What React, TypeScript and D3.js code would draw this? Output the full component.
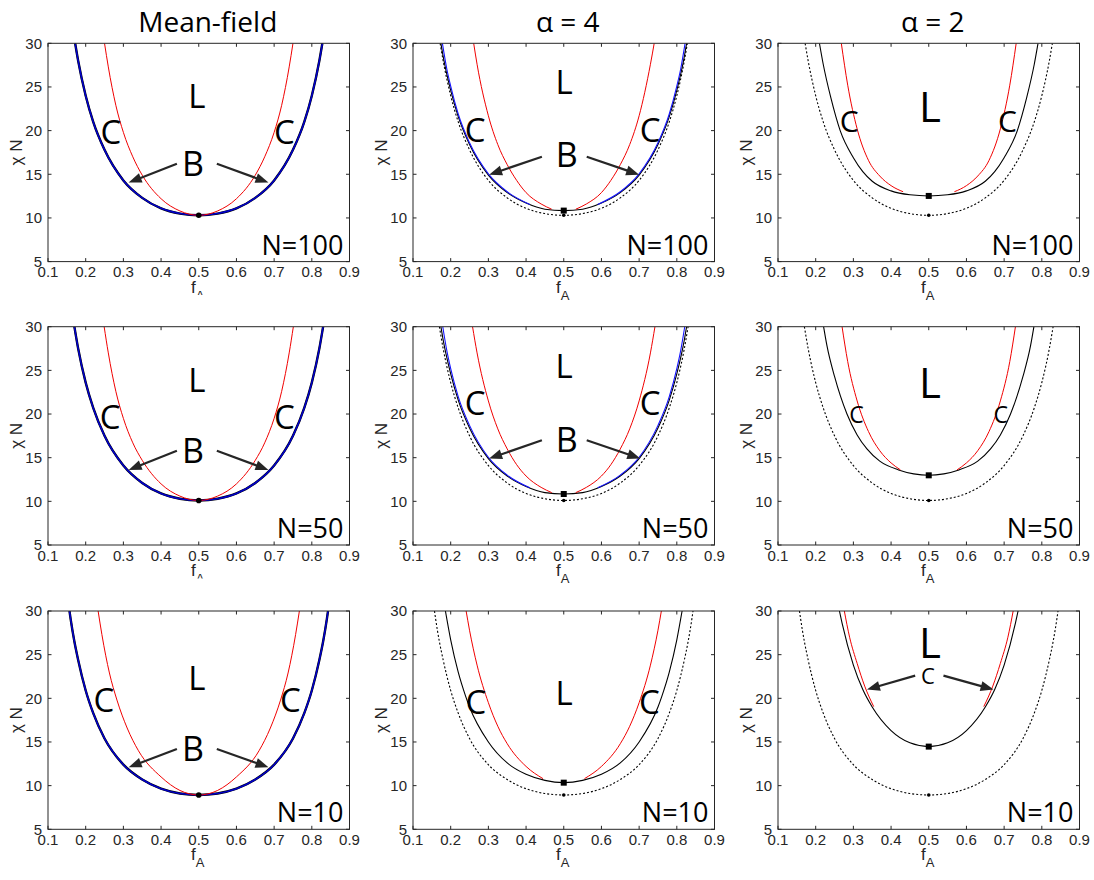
import React from "react";
import * as d3 from "d3";

type Pt = [number, number];

const colTitles = ["Mean-field", "α = 4", "α = 2"];
const rowLabels = ["N=100", "N=50", "N=10"];
const xTicks = [0.1, 0.2, 0.3, 0.4, 0.5, 0.6, 0.7, 0.8, 0.9];
const yTicks = [5, 10, 15, 20, 25, 30];

// ---- N = 100 ----
const mfOdt100: Pt[] = [[0.172,30],[0.18,28.0],[0.2,24.0],[0.22,21.0],[0.25,17.8],[0.3,14.3],[0.35,12.3],[0.4,11.1],[0.45,10.5],[0.5,10.3],[0.55,10.5],[0.6,11.1],[0.65,12.3],[0.7,14.3],[0.75,17.8],[0.78,21.0],[0.8,24.0],[0.82,28.0],[0.828,30]];
const mfCL100: Pt[] = [[0.25,30],[0.26,27.3],[0.28,22.9],[0.3,19.8],[0.325,17.0],[0.35,14.9],[0.4,12.2],[0.45,10.8],[0.5,10.3],[0.55,10.8],[0.6,12.2],[0.65,14.9],[0.675,17.0],[0.7,19.8],[0.72,22.9],[0.74,27.3],[0.75,30]];
const a4Odt100: Pt[] = [[0.174,30],[0.18,28.5],[0.2,24.6],[0.22,21.6],[0.25,18.4],[0.3,14.9],[0.35,12.9],[0.4,11.7],[0.45,11.0],[0.5,10.84],[0.55,11.0],[0.6,11.7],[0.65,12.9],[0.7,14.9],[0.75,18.4],[0.78,21.6],[0.8,24.6],[0.82,28.5],[0.826,30]];
const a4BC100L: Pt[] = [[0.178,30],[0.19,27.0],[0.2,25.1],[0.22,21.9],[0.25,18.6],[0.3,15.05],[0.35,13.0],[0.41,11.55]];
const a4BC100R: Pt[] = [[0.59,11.55],[0.65,13.0],[0.7,15.05],[0.75,18.6],[0.78,21.9],[0.8,25.1],[0.81,27.0],[0.822,30]];
const a4CL100L: Pt[] = [[0.261,30],[0.27,27.6],[0.3,21.7],[0.325,18.4],[0.35,16.1],[0.375,14.3],[0.4,12.9],[0.44,11.6],[0.468,11.0]];
const a4CL100R: Pt[] = [[0.532,11.0],[0.56,11.6],[0.6,12.9],[0.625,14.3],[0.65,16.1],[0.675,18.4],[0.7,21.7],[0.73,27.6],[0.74,30]];
const a2Odt100: Pt[] = [[0.21,30],[0.22,27.6],[0.24,23.8],[0.265,20.0],[0.3,16.9],[0.325,15.3],[0.35,14.2],[0.4,13.1],[0.45,12.65],[0.5,12.52],[0.55,12.65],[0.6,13.1],[0.65,14.2],[0.675,15.3],[0.7,16.9],[0.735,20.0],[0.76,23.8],[0.78,27.6],[0.79,30]];
const a2CL100L: Pt[] = [[0.268,30],[0.285,25.2],[0.31,20.2],[0.34,16.6],[0.37,14.8],[0.4,13.7],[0.432,13.0]];
const a2CL100R: Pt[] = [[0.568,13.0],[0.6,13.7],[0.63,14.8],[0.66,16.6],[0.69,20.2],[0.715,25.2],[0.732,30]];

// ---- N = 50 ----
const mfOdt50: Pt[] = [[0.17,30],[0.18,27.5],[0.2,23.6],[0.22,20.7],[0.25,17.5],[0.3,14.1],[0.35,12.1],[0.4,10.9],[0.45,10.3],[0.5,10.1],[0.55,10.3],[0.6,10.9],[0.65,12.1],[0.7,14.1],[0.75,17.5],[0.78,20.7],[0.8,23.6],[0.82,27.5],[0.83,30]];
const mfCL50: Pt[] = [[0.249,30],[0.26,27.0],[0.28,22.6],[0.3,19.5],[0.325,16.7],[0.35,14.7],[0.4,12.0],[0.45,10.6],[0.5,10.1],[0.55,10.6],[0.6,12.0],[0.65,14.7],[0.675,16.7],[0.7,19.5],[0.72,22.6],[0.74,27.0],[0.751,30]];
const a4Odt50: Pt[] = [[0.174,30],[0.18,28.5],[0.2,24.6],[0.22,21.6],[0.25,18.4],[0.3,14.9],[0.35,12.9],[0.4,11.7],[0.45,11.0],[0.5,10.84],[0.55,11.0],[0.6,11.7],[0.65,12.9],[0.7,14.9],[0.75,18.4],[0.78,21.6],[0.8,24.6],[0.82,28.5],[0.826,30]];
const a4BC50L: Pt[] = [[0.179,30],[0.19,27.2],[0.2,25.2],[0.22,22.0],[0.25,18.7],[0.3,15.05],[0.35,13.0],[0.41,11.55]];
const a4BC50R: Pt[] = [[0.59,11.55],[0.65,13.0],[0.7,15.05],[0.75,18.7],[0.78,22.0],[0.8,25.2],[0.81,27.2],[0.821,30]];
const a4CL50L: Pt[] = [[0.258,30],[0.27,27.0],[0.3,21.5],[0.325,18.3],[0.35,16.0],[0.375,14.2],[0.4,12.9],[0.44,11.6],[0.468,11.0]];
const a4CL50R: Pt[] = [[0.532,11.0],[0.56,11.6],[0.6,12.9],[0.625,14.2],[0.65,16.0],[0.675,18.3],[0.7,21.5],[0.73,27.0],[0.742,30]];
const a2Odt50: Pt[] = [[0.221,30],[0.23,27.8],[0.25,24.3],[0.283,20.0],[0.31,17.6],[0.336,16.0],[0.37,14.6],[0.42,13.6],[0.46,13.15],[0.5,12.98],[0.54,13.15],[0.58,13.6],[0.63,14.6],[0.664,16.0],[0.69,17.6],[0.717,20.0],[0.75,24.3],[0.77,27.8],[0.779,30]];
const a2CL50L: Pt[] = [[0.27,30],[0.285,26.0],[0.31,21.5],[0.34,18.0],[0.37,15.8],[0.4,14.4],[0.425,13.6]];
const a2CL50R: Pt[] = [[0.575,13.6],[0.6,14.4],[0.63,15.8],[0.66,18.0],[0.69,21.5],[0.715,26.0],[0.73,30]];

// ---- N = 10 ----
const mfOdt10: Pt[] = [[0.157,30],[0.16,29.1],[0.17,26.5],[0.18,24.4],[0.2,20.9],[0.22,18.3],[0.25,15.4],[0.3,12.4],[0.35,10.7],[0.4,9.65],[0.45,9.1],[0.5,8.93],[0.55,9.1],[0.6,9.65],[0.65,10.7],[0.7,12.4],[0.75,15.4],[0.78,18.3],[0.8,20.9],[0.82,24.4],[0.83,26.5],[0.84,29.1],[0.843,30]];
const mfCL10: Pt[] = [[0.233,30],[0.243,27.3],[0.263,22.9],[0.283,19.8],[0.31,16.6],[0.34,14.0],[0.4,11.0],[0.45,9.45],[0.5,8.93],[0.55,9.45],[0.6,11.0],[0.66,14.0],[0.69,16.6],[0.717,19.8],[0.737,22.9],[0.757,27.3],[0.767,30]];
const a4Odt10: Pt[] = [[0.186,30],[0.2,26.7],[0.22,23.0],[0.24,20.2],[0.25,19.0],[0.3,15.0],[0.35,12.6],[0.4,11.3],[0.45,10.6],[0.5,10.34],[0.55,10.6],[0.6,11.3],[0.65,12.6],[0.7,15.0],[0.75,19.0],[0.76,20.2],[0.78,23.0],[0.8,26.7],[0.814,30]];
const a4CL10L: Pt[] = [[0.241,30],[0.25,27.8],[0.27,23.8],[0.3,19.5],[0.325,16.8],[0.35,14.8],[0.4,12.2],[0.445,10.8]];
const a4CL10R: Pt[] = [[0.555,10.8],[0.6,12.2],[0.65,14.8],[0.675,16.8],[0.7,19.5],[0.73,23.8],[0.75,27.8],[0.759,30]];
const a2Odt10: Pt[] = [[0.263,30],[0.27,28.6],[0.3,23.8],[0.325,21.0],[0.35,19.0],[0.4,16.3],[0.45,14.9],[0.5,14.47],[0.55,14.9],[0.6,16.3],[0.65,19.0],[0.675,21.0],[0.7,23.8],[0.73,28.6],[0.737,30]];
const a2CL10L: Pt[] = [[0.276,30],[0.29,27.0],[0.31,24.0],[0.33,21.4],[0.354,19.05]];
const a2CL10R: Pt[] = [[0.646,19.05],[0.67,21.4],[0.69,24.0],[0.71,27.0],[0.724,30]];

// ---------- styling / layout ----------
const RED = "#f00000";
const BLUE = "#0000c8";
const BLUE2 = "#1414ff";
const AX = "#262626";
const LABEL_FONT = "'Open Sans', 'Noto Sans', sans-serif";
const TICK_FONT = "'Liberation Sans', Arial, sans-serif";

const colX = [48, 413, 778];
const rowY = [43.3, 326.7, 611];
const PW = 301.5;
const PH = 218.3;

interface Curve { pts: Pt[]; color: string; width: number; dash?: string }
interface Label { text: string; f: number; chi: number; size: number }
interface Arrow { from: Pt; to: Pt }
interface Panel {
  curves: Curve[];
  circle?: Pt;
  square?: Pt;
  dot?: Pt;
  labels: Label[];
  arrows: Arrow[];
}

const at5 = (c: Pt[]): Pt => c.find(d => d[0] === 0.5) as Pt;

const mfPanel = (odt: Pt[], cl: Pt[], labels: Label[], arrows: Arrow[]): Panel => ({
  curves: [
    { pts: odt, color: "#000", width: 2.4 },
    { pts: odt, color: BLUE, width: 1.6 },
    { pts: cl, color: RED, width: 1 },
  ],
  circle: at5(odt),
  labels,
  arrows,
});

const flucPanel = (mf: Pt[], odt: Pt[], blue: Pt[][], red: Pt[][], labels: Label[], arrows: Arrow[]): Panel => ({
  curves: [
    { pts: mf, color: "#000", width: 1.1, dash: "2,2" },
    { pts: odt, color: "#000", width: 1.1 },
    ...blue.map(b => ({ pts: b, color: BLUE2, width: 1.1 })),
    ...red.map(r => ({ pts: r, color: RED, width: 1 })),
  ],
  square: at5(odt),
  dot: at5(mf),
  labels,
  arrows,
});

const panels: Panel[][] = [
  [
    mfPanel(mfOdt100, mfCL100,
      [{ text: "L", f: 0.495, chi: 24.0, size: 33 }, { text: "C", f: 0.267, chi: 19.85, size: 33 }, { text: "C", f: 0.727, chi: 19.85, size: 33 }, { text: "B", f: 0.485, chi: 16.2, size: 34 }],
      [{ from: [0.442, 16.2], to: [0.314, 14.05] }, { from: [0.548, 16.2], to: [0.685, 14.05] }]),
    flucPanel(mfOdt100, a4Odt100, [a4BC100L, a4BC100R], [a4CL100L, a4CL100R],
      [{ text: "L", f: 0.501, chi: 25.5, size: 33 }, { text: "C", f: 0.265, chi: 20.1, size: 33 }, { text: "C", f: 0.729, chi: 20.1, size: 33 }, { text: "B", f: 0.508, chi: 17.2, size: 34 }],
      [{ from: [0.442, 17.0], to: [0.302, 14.96] }, { from: [0.561, 17.0], to: [0.7, 14.96] }]),
    flucPanel(mfOdt100, a2Odt100, [], [a2CL100L, a2CL100R],
      [{ text: "L", f: 0.503, chi: 22.75, size: 42 }, { text: "C", f: 0.289, chi: 21.1, size: 30 }, { text: "C", f: 0.709, chi: 21.1, size: 30 }],
      []),
  ],
  [
    mfPanel(mfOdt50, mfCL50,
      [{ text: "L", f: 0.495, chi: 23.9, size: 33 }, { text: "C", f: 0.265, chi: 19.7, size: 33 }, { text: "C", f: 0.727, chi: 19.7, size: 33 }, { text: "B", f: 0.485, chi: 15.8, size: 34 }],
      [{ from: [0.442, 15.8], to: [0.314, 13.6] }, { from: [0.548, 15.8], to: [0.685, 13.6] }]),
    flucPanel(mfOdt50, a4Odt50, [a4BC50L, a4BC50R], [a4CL50L, a4CL50R],
      [{ text: "L", f: 0.501, chi: 25.5, size: 33 }, { text: "C", f: 0.265, chi: 21.2, size: 33 }, { text: "C", f: 0.729, chi: 21.2, size: 33 }, { text: "B", f: 0.508, chi: 17.0, size: 34 }],
      [{ from: [0.442, 17.0], to: [0.302, 14.9] }, { from: [0.561, 17.0], to: [0.703, 14.9] }]),
    flucPanel(mfOdt50, a2Odt50, [], [a2CL50L, a2CL50R],
      [{ text: "L", f: 0.503, chi: 23.6, size: 42 }, { text: "C", f: 0.308, chi: 19.9, size: 23 }, { text: "C", f: 0.691, chi: 19.9, size: 23 }],
      []),
  ],
  [
    mfPanel(mfOdt10, mfCL10,
      [{ text: "L", f: 0.495, chi: 22.3, size: 33 }, { text: "C", f: 0.248, chi: 19.8, size: 33 }, { text: "C", f: 0.743, chi: 19.8, size: 33 }, { text: "B", f: 0.485, chi: 14.2, size: 34 }],
      [{ from: [0.442, 14.2], to: [0.314, 12.1] }, { from: [0.548, 14.2], to: [0.685, 12.1] }]),
    flucPanel(mfOdt10, a4Odt10, [], [a4CL10L, a4CL10R],
      [{ text: "L", f: 0.501, chi: 20.6, size: 33 }, { text: "C", f: 0.267, chi: 19.6, size: 33 }, { text: "C", f: 0.727, chi: 19.6, size: 33 }],
      []),
    flucPanel(mfOdt10, a2Odt10, [], [a2CL10L, a2CL10R],
      [{ text: "L", f: 0.503, chi: 26.4, size: 42 }, { text: "C", f: 0.498, chi: 22.6, size: 22 }],
      [{ from: [0.464, 22.6], to: [0.336, 21.0] }, { from: [0.539, 22.6], to: [0.672, 21.0] }]),
  ],
];

function arrowHead(x1: number, y1: number, x2: number, y2: number) {
  const ang = Math.atan2(y2 - y1, x2 - x1);
  const len = 13;
  const half = 5;
  const bx = x2 - len * Math.cos(ang);
  const by = y2 - len * Math.sin(ang);
  const px = -Math.sin(ang) * half;
  const py = Math.cos(ang) * half;
  return `M${x2},${y2}L${bx + px},${by + py}L${bx - px},${by - py}Z`;
}

const PanelView = ({ panel, row, col }: { panel: Panel; row: number; col: number }) => {
  const x0 = colX[col];
  const y0 = rowY[row];
  const x = d3.scaleLinear().domain([0.1, 0.9]).range([x0, x0 + PW]);
  const y = d3.scaleLinear().domain([5, 30]).range([y0 + PH, y0]);
  const line = d3.line<Pt>().x(d => x(d[0])).y(d => y(d[1])).curve(d3.curveMonotoneX);
  const clipId = `clip-${row}-${col}`;
  const xlabClip = `xlab-${row}-${col}`;
  // the subscript of f_A is cut off under the first column's upper panels
  const cutLabel = col === 0 && row < 2;
  const tick = 3.5;

  return (
    <g>
      <defs>
        <clipPath id={clipId}>
          <rect x={x0} y={y0} width={PW} height={PH} />
        </clipPath>
        <clipPath id={xlabClip}>
          <rect x={x0} y={y0 + PH} width={PW} height={cutLabel ? 33.5 : 60} />
        </clipPath>
      </defs>
      {row === 0 && (
        <text x={x0 + PW / 2 + (col === 0 ? 9 : 4)} y={32} textAnchor="middle" fontFamily={LABEL_FONT} fontSize={28} fill="#000">
          {colTitles[col]}
        </text>
      )}
      <g clipPath={`url(#${clipId})`}>
        {panel.curves.map((c, i) => (
          <path key={i} d={line(c.pts) ?? ""} fill="none" stroke={c.color} strokeWidth={c.width} strokeDasharray={c.dash} />
        ))}
      </g>
      {panel.dot && <circle cx={x(panel.dot[0])} cy={y(panel.dot[1])} r={1.8} fill="#000" />}
      {panel.square && (
        <rect x={x(panel.square[0]) - 3} y={y(panel.square[1]) - 3} width={6} height={6} fill="#000" />
      )}
      {panel.circle && <circle cx={x(panel.circle[0])} cy={y(panel.circle[1])} r={2.8} fill="#000" />}

      {panel.labels.map((l, i) => (
        <text key={i} x={x(l.f)} y={y(l.chi)} dy="0.36em" textAnchor="middle" fontFamily={LABEL_FONT} fontSize={l.size} fill="#000">
          {l.text}
        </text>
      ))}
      {panel.arrows.map((a, i) => {
        const x1 = x(a.from[0]), y1 = y(a.from[1]);
        const x2 = x(a.to[0]), y2 = y(a.to[1]);
        const ang = Math.atan2(y2 - y1, x2 - x1);
        return (
          <g key={i}>
            <line x1={x1} y1={y1} x2={x2 - 10 * Math.cos(ang)} y2={y2 - 10 * Math.sin(ang)} stroke={AX} strokeWidth={2.2} />
            <path d={arrowHead(x1, y1, x2, y2)} fill={AX} />
          </g>
        );
      })}

      <text x={x0 + PW - 6} y={y0 + PH - 7} textAnchor="end" fontFamily={LABEL_FONT} fontSize={27} fill="#000">
        {rowLabels[row]}
      </text>

      {/* axes box and ticks */}
      <rect x={x0} y={y0} width={PW} height={PH} fill="none" stroke={AX} strokeWidth={1} />
      {xTicks.map(t => (
        <g key={`x${t}`}>
          <line x1={x(t)} x2={x(t)} y1={y0 + PH} y2={y0 + PH - tick} stroke={AX} />
          <line x1={x(t)} x2={x(t)} y1={y0} y2={y0 + tick} stroke={AX} />
          <text x={x(t)} y={y0 + PH + 15.5} textAnchor="middle" fontFamily={TICK_FONT} fontSize={15} fill={AX}>
            {d3.format(".1f")(t)}
          </text>
        </g>
      ))}
      {yTicks.map(t => (
        <g key={`y${t}`}>
          <line x1={x0} x2={x0 + tick} y1={y(t)} y2={y(t)} stroke={AX} />
          <line x1={x0 + PW} x2={x0 + PW - tick} y1={y(t)} y2={y(t)} stroke={AX} />
          <text x={x0 - 6} y={y(t)} dy="0.36em" textAnchor="end" fontFamily={TICK_FONT} fontSize={15} fill={AX}>
            {t}
          </text>
        </g>
      ))}
      <g clipPath={`url(#${xlabClip})`}>
        <text x={x0 + PW / 2 - 1} y={y0 + PH + 31} textAnchor="middle" fontFamily={TICK_FONT} fontSize={17} fill={AX}>
          f<tspan fontSize={13} dy={7}>A</tspan>
        </text>
      </g>
      <text
        transform={`translate(${x0 - 26},${y0 + PH / 2}) rotate(-90)`}
        textAnchor="middle"
        fontFamily={TICK_FONT}
        fontSize={17}
        fill={AX}
      >
        χ N
      </text>
    </g>
  );
};

export default function App() {
  return (
    <svg
      width={1094}
      height={880}
      viewBox="0 0 1094 880"
      style={{ position: "absolute", left: 0, top: 0, background: "#fff" }}
    >
      <rect width={1094} height={880} fill="#fff" />
      {panels.map((r, ri) => r.map((p, ci) => <PanelView key={`${ri}-${ci}`} panel={p} row={ri} col={ci} />))}
    </svg>
  );
}
